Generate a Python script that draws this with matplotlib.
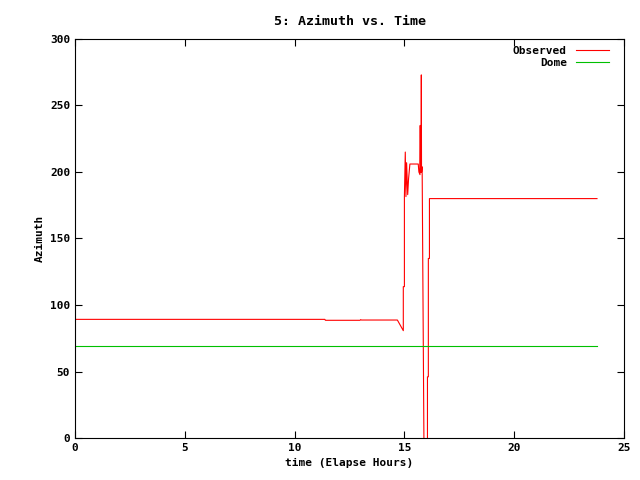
import matplotlib
matplotlib.use('Agg')
import matplotlib.pyplot as plt

# observed azimuth (elapsed hours, degrees)
obs_t = [0.0, 11.38, 11.40, 12.98, 13.01, 13.04, 14.68, 14.95, 14.95, 15.00, 15.00,
         15.04, 15.07, 15.10, 15.15, 15.19, 15.25, 15.63, 15.66, 15.71, 15.72,
         15.73, 15.74, 15.76, 15.77, 15.78, 15.80, 15.81, 15.89, 15.89, 16.05,
         16.05, 16.09, 16.09, 16.14, 16.14, 23.77]
obs_az = [89.2, 89.2, 88.5, 88.5, 89.0, 88.7, 88.7, 80.7, 113.8, 113.8, 181.5,
          215.0, 181.5, 207.0, 183.0, 195.0, 206.0, 206.0, 200.0, 198.0, 235.0,
          200.0, 235.0, 200.0, 273.0, 200.0, 204.0, 198.0, -5.0, -5.0, -5.0,
          46.0, 46.0, 135.0, 135.0, 180.0, 180.0]

dome_t = [0.0, 23.77]
dome_az = [69.0, 69.0]

plt.rcParams['font.family'] = 'DejaVu Sans Mono'
plt.rcParams['font.size'] = 8

fig = plt.figure(figsize=(6.4, 4.8), dpi=100)
ax = fig.add_axes([0.1172, 0.0875, 0.8578, 0.83125])
ax.plot(obs_t, obs_az, color='#ff0000', lw=0.8, label='Observed')
ax.plot(dome_t, dome_az, color='#00c000', lw=0.8, label='Dome')
ax.set_xlim(0, 25)
ax.set_ylim(0, 300)
ax.set_xticks([0, 5, 10, 15, 20, 25])
ax.set_yticks([0, 50, 100, 150, 200, 250, 300])
ax.tick_params(direction='in', top=True, right=True, length=5, width=0.8)
for s in ax.spines.values():
    s.set_linewidth(0.8)
ax.set_title('5: Azimuth vs. Time', fontweight='bold', pad=10)
ax.set_xlabel('time (Elapse Hours)', fontweight='bold')
ax.set_ylabel('Azimuth', fontweight='bold')
for lab in ax.get_xticklabels() + ax.get_yticklabels():
    lab.set_fontweight('bold')
leg = ax.legend(loc='upper right', bbox_to_anchor=(0.985, 1.0), frameon=False,
                markerfirst=False, handlelength=3, borderaxespad=0.2,
                labelspacing=0.2, prop={'weight': 'bold', 'size': 8})
for t in leg.get_texts():
    t.set_ha('right')
fig.savefig('out.png', dpi=100)
